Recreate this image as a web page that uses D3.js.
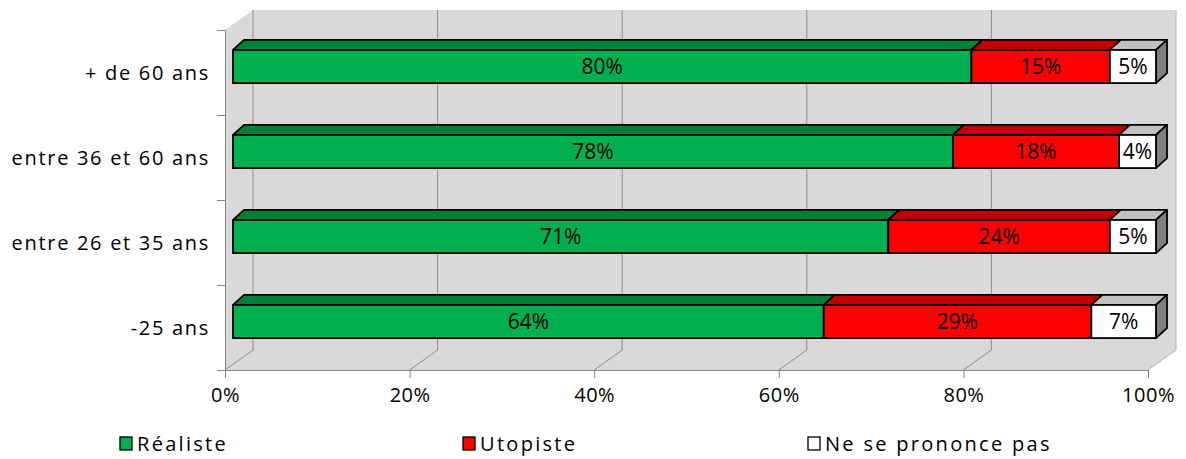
<!DOCTYPE html>
<html>
<head>
<meta charset="utf-8">
<script src="https://cdnjs.cloudflare.com/ajax/libs/d3/7.8.5/d3.min.js"></script>
<style>
  body { margin: 0; background: #fff; }
  svg text { font-family: "Open Sans", sans-serif; fill: #000; }
</style>
</head>
<body>
<svg class="chart" width="1186" height="459"></svg>
<script>
// data (top row first)
const categories = ["+ de 60 ans", "entre 36 et 60 ans", "entre 26 et 35 ans", "-25 ans"];
const seriesNames = ["Réaliste", "Utopiste", "Ne se prononce pas"];
const realiste = [80, 78, 71, 64];
const utopiste = [15, 18, 24, 29];
const neSePrononce = [5, 4, 5, 7];
const tickValues = [0, 20, 40, 60, 80, 100];

const frontColors = ["#00b050", "#ff0000", "#ffffff"];
const topColors = ["#008037", "#c00000", "#c0c0c0"];
const sideColor = "#808080";

const plot = {left: 225, top: 30, bottom: 370, width: 923};
const wall = {dx: 28, dy: -20};     // depth of the floor / walls
const barShift = {dx: 8, dy: -6};   // bars sit a little behind the front plane
const barDepth = {dx: 11, dy: -10};

let svg = d3.select(".chart");

let x = d3.scaleLinear()
          .domain([0, 100])
          .range([plot.left, plot.left + plot.width]);

let y = d3.scaleBand()
          .domain(categories)
          .range([plot.top, plot.bottom])
          .paddingInner(0.61)
          .paddingOuter(0.305);

// Walls and floor
svg.append("polygon")
   .attr("points", [
     [plot.left, plot.top],
     [plot.left + wall.dx, plot.top + wall.dy],
     [x(100) + wall.dx, plot.top + wall.dy],
     [x(100) + wall.dx, plot.bottom + wall.dy],
     [x(100), plot.bottom],
     [plot.left, plot.bottom]
   ].join(" "))
   .style("fill", "#d9d9d9");

// Grid: diagonal on the floor then vertical on the back wall
let grid = svg.append("g").attr("class", "grid");
tickValues.forEach((t) => {
  grid.append("polyline")
      .attr("points", [
        [x(t), plot.bottom],
        [x(t) + wall.dx, plot.bottom + wall.dy],
        [x(t) + wall.dx, plot.top + wall.dy]
      ].join(" "))
      .style("fill", "none")
      .style("stroke", t === 100 ? "#b3b3b3" : "#8c8c8c")
      .style("stroke-width", 1);
});

// x-Axis
let xAxis = d3.axisBottom(x)
              .tickValues(tickValues)
              .tickSize(8)
              .tickSizeOuter(0)
              .tickPadding(10)
              .tickFormat((d) => d + "%");

let gx = svg.append("g")
            .attr("transform", "translate(0," + plot.bottom + ")")
            .call(xAxis);
gx.select(".domain").style("stroke", "#868686");
gx.selectAll(".tick line").style("stroke", "#868686");
gx.selectAll(".tick text").style("font-size", "20px").style("letter-spacing", "0.5px");

// y-Axis: ticks on band boundaries, labels at band centres
let yEdge = d3.scaleLinear()
              .domain([0, categories.length])
              .range([plot.top, plot.bottom]);
let yAxis = d3.axisLeft(yEdge)
              .tickValues(d3.range(categories.length + 1))
              .tickSize(8)
              .tickSizeOuter(0)
              .tickFormat("");
let gy = svg.append("g")
            .attr("transform", "translate(" + plot.left + ",0)")
            .call(yAxis);
gy.select(".domain").style("stroke", "#868686");
gy.selectAll(".tick line").style("stroke", "#868686");

svg.append("g").selectAll("text")
   .data(categories)
   .enter().append("text")
   .attr("x", 210)
   .attr("y", (d) => y(d) + y.bandwidth() / 2)
   .attr("dy", "0.35em")
   .attr("text-anchor", "end")
   .style("font-size", "20px")
   .style("letter-spacing", "1.7px")
   .text((d) => d);

// Bars
let rows = categories.map((c, i) => {
  let vals = [realiste[i], utopiste[i], neSePrononce[i]];
  let acc = 0;
  return {cat: c, segs: vals.map((v, k) => {
    let s = {k: k, v: v, x0: acc, x1: acc + v};
    acc += v;
    return s;
  })};
});

let bars = svg.append("g").attr("class", "bars");
rows.forEach((row) => {
  let by = y(row.cat) + barShift.dy;
  let bh = y.bandwidth();
  let g = bars.append("g");
  row.segs.forEach((s, j) => {
    let xa = x(s.x0) + barShift.dx;
    let xb = x(s.x1) + barShift.dx;
    // top face
    g.append("polygon")
     .attr("points", [[xa, by], [xa + barDepth.dx, by + barDepth.dy],
                      [xb + barDepth.dx, by + barDepth.dy], [xb, by]].join(" "))
     .style("fill", topColors[s.k])
     .style("stroke", "#000")
     .style("stroke-width", 1.8)
     .style("stroke-linejoin", "round");
    // right side on the last segment only
    if (j === row.segs.length - 1) {
      g.append("polygon")
       .attr("points", [[xb, by], [xb + barDepth.dx, by + barDepth.dy],
                        [xb + barDepth.dx, by + bh + barDepth.dy], [xb, by + bh]].join(" "))
       .style("fill", sideColor)
       .style("stroke", "#000")
       .style("stroke-width", 1.8)
       .style("stroke-linejoin", "round");
    }
    // front face
    g.append("rect")
     .attr("x", xa)
     .attr("y", by)
     .attr("width", xb - xa)
     .attr("height", bh)
     .style("fill", frontColors[s.k])
     .style("stroke", "#000")
     .style("stroke-width", 1.8);
    g.append("text")
     .attr("x", (xa + xb) / 2)
     .attr("y", by + bh / 2)
     .attr("dy", "0.35em")
     .attr("text-anchor", "middle")
     .style("font-size", "21px")
     .text(s.v + "%");
  });
});

// Legend
let legendX = [120, 463, 808];
let legend = svg.append("g").attr("class", "legend");
seriesNames.forEach((name, k) => {
  legend.append("rect")
        .attr("x", legendX[k])
        .attr("y", 437)
        .attr("width", 12)
        .attr("height", 13)
        .style("fill", frontColors[k])
        .style("stroke", "#000")
        .style("stroke-width", 1.3);
  legend.append("text")
        .attr("x", legendX[k] + 17)
        .attr("y", 444)
        .attr("dy", "0.35em")
        .style("font-size", "20px")
        .style("letter-spacing", "2.3px")
        .text(name);
});
</script>
</body>
</html>
